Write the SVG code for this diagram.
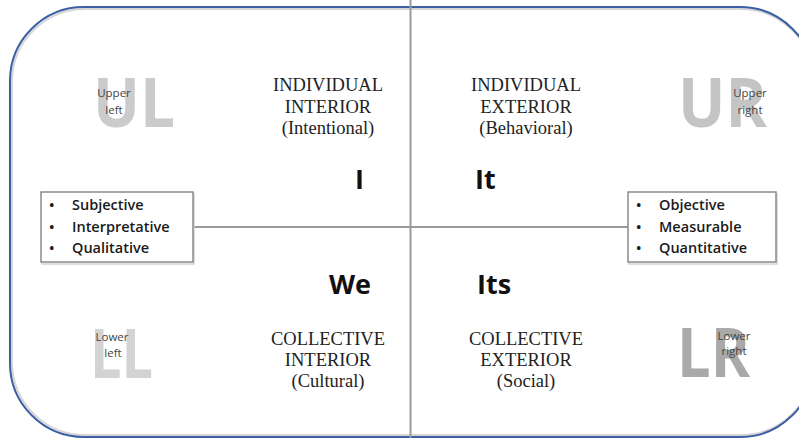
<svg xmlns="http://www.w3.org/2000/svg" width="799" height="438" viewBox="0 0 799 438">
  <style>
    .frame { fill: none; stroke: #3b5fa3; stroke-width: 2; }
    .frame-shadow { fill: none; stroke: #d6d6d6; stroke-width: 2; }
    .axis { stroke: #9a9a9a; stroke-width: 2; fill: none; }
    .box { fill: #ffffff; stroke: #8a8a8a; stroke-width: 1.5; }
    .box-shadow { fill: none; stroke: #d4d4d4; stroke-width: 1.5; }
    .item { font-family: "Open Sans", "Liberation Sans", sans-serif; font-weight: 600; font-size: 14.5px; fill: #1a1a1a; }
    .head { font-family: "Liberation Serif", "DejaVu Serif", serif; font-size: 18.5px; fill: #222222; text-anchor: middle; }
    .pron { font-family: "Open Sans", "Liberation Sans", sans-serif; font-weight: 700; font-size: 27px; fill: #111111; }
    .big { font-family: "Open Sans", "Liberation Sans", sans-serif; font-weight: 700; font-size: 68px; }
    .tag { font-family: "Open Sans", "Liberation Sans", sans-serif; font-size: 11.5px; fill: #444444; text-anchor: middle; }
  </style>

  <!-- outer rounded frame, running past the right edge -->
  <g id="frame">
    <rect class="frame-shadow" x="12" y="9" width="802" height="426" rx="73" ry="73"/>
    <rect class="frame" x="10" y="7" width="804" height="430" rx="74" ry="74"/>
  </g>

  <!-- quadrant axes and box links -->
  <g id="connectors">
    <line class="axis" x1="410.5" y1="0" x2="410.5" y2="438"/>
    <line class="axis" x1="193" y1="227" x2="628" y2="227"/>
  </g>

  <!-- quadrant watermarks -->
  <g id="upper-left">
    <text class="big" x="93" y="127" fill="#cbcbcb" textLength="82" lengthAdjust="spacingAndGlyphs">UL</text>
    <text class="tag" x="114" y="97">Upper</text>
    <text class="tag" x="114" y="114">left</text>
  </g>
  <g id="upper-right">
    <text class="big" x="678" y="127" fill="#c4c4c4" textLength="89" lengthAdjust="spacingAndGlyphs">UR</text>
    <text class="tag" x="750" y="97">Upper</text>
    <text class="tag" x="750" y="114">right</text>
  </g>
  <g id="lower-left">
    <text class="big" x="90" y="378" fill="#d3d3d3" textLength="63" lengthAdjust="spacingAndGlyphs">LL</text>
    <text class="tag" x="112" y="341">Lower</text>
    <text class="tag" x="113" y="357">left</text>
  </g>
  <g id="lower-right">
    <text class="big" x="677" y="377" fill="#a9a9a9" textLength="73" lengthAdjust="spacingAndGlyphs">LR</text>
    <text class="tag" x="734" y="340">Lower</text>
    <text class="tag" x="734" y="355">right</text>
  </g>

  <!-- quadrant headings -->
  <g id="individual-interior">
    <text class="head" x="328" y="91">INDIVIDUAL</text>
    <text class="head" x="328" y="113">INTERIOR</text>
    <text class="head" x="328" y="134">(Intentional)</text>
    <text class="pron" x="355" y="189">I</text>
  </g>
  <g id="individual-exterior">
    <text class="head" x="526" y="91">INDIVIDUAL</text>
    <text class="head" x="526" y="113">EXTERIOR</text>
    <text class="head" x="526" y="134">(Behavioral)</text>
    <text class="pron" x="475" y="189">It</text>
  </g>
  <g id="collective-interior">
    <text class="head" x="328" y="345">COLLECTIVE</text>
    <text class="head" x="328" y="366">INTERIOR</text>
    <text class="head" x="328" y="387">(Cultural)</text>
    <text class="pron" x="329" y="294">We</text>
  </g>
  <g id="collective-exterior">
    <text class="head" x="526" y="345">COLLECTIVE</text>
    <text class="head" x="526" y="366">EXTERIOR</text>
    <text class="head" x="526" y="387">(Social)</text>
    <text class="pron" x="477" y="294">Its</text>
  </g>

  <!-- side boxes -->
  <g id="left-box">
    <rect class="box-shadow" x="42" y="194" width="152" height="70"/>
    <rect class="box" x="41" y="192" width="152" height="70"/>
    <text class="item" x="49" y="210">•</text>
    <text class="item" x="72" y="210">Subjective</text>
    <text class="item" x="49" y="232">•</text>
    <text class="item" x="72" y="232">Interpretative</text>
    <text class="item" x="49" y="253">•</text>
    <text class="item" x="72" y="253">Qualitative</text>
  </g>
  <g id="right-box">
    <rect class="box-shadow" x="629" y="194" width="148" height="70"/>
    <rect class="box" x="628" y="192" width="148" height="70"/>
    <text class="item" x="636" y="210">•</text>
    <text class="item" x="659" y="210">Objective</text>
    <text class="item" x="636" y="232">•</text>
    <text class="item" x="659" y="232">Measurable</text>
    <text class="item" x="636" y="253">•</text>
    <text class="item" x="659" y="253">Quantitative</text>
  </g>
</svg>
